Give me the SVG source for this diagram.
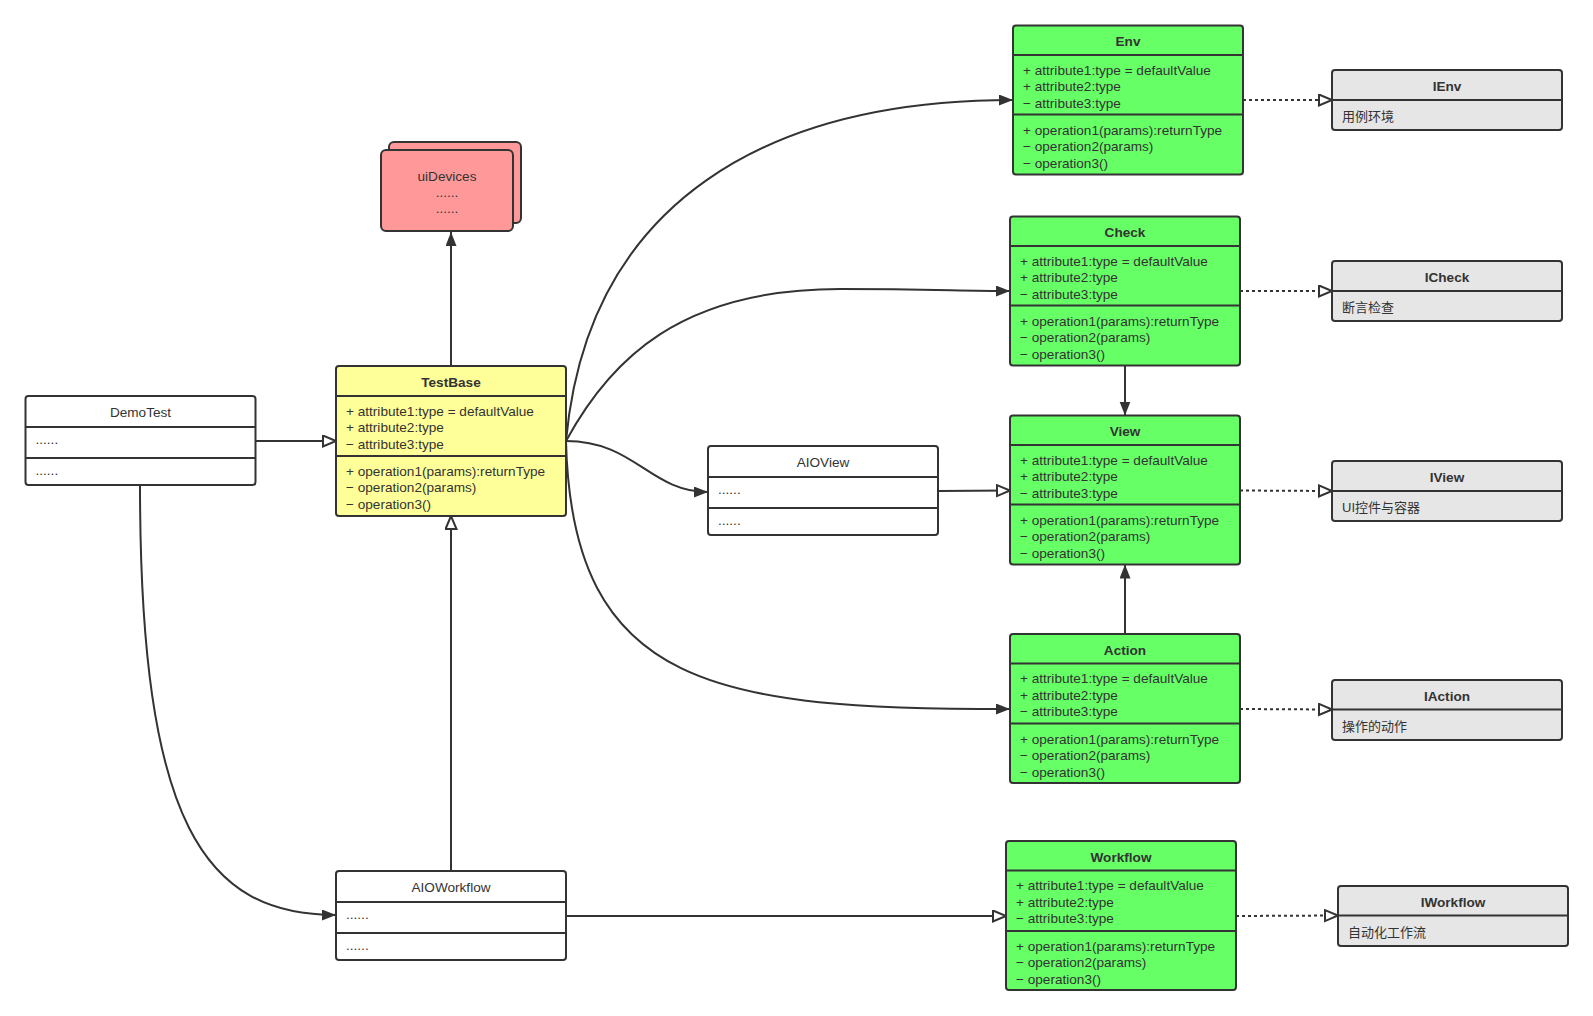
<svg xmlns="http://www.w3.org/2000/svg" width="1593" height="1016" viewBox="0 0 1593 1016">
<defs>
<style>
.box{stroke:#333;stroke-width:2}
.div{stroke:#333;stroke-width:2;fill:none}
.g{fill:#66FF66}
.y{fill:#FFFF99}
.r{fill:#FF9999}
.gr{fill:#E6E6E6}
.w{fill:#FFFFFF}
text{font-family:"Liberation Sans","Noto Sans CJK SC",sans-serif;font-size:13.6px;fill:#333}
.h{font-weight:bold;text-anchor:middle}
.hn{text-anchor:middle}
.cjk{font-size:13px}
.c{fill:none;stroke:#333;stroke-width:2}
.dot{fill:none;stroke:#333;stroke-width:2;stroke-dasharray:3,3}
</style>
<marker id="fa" markerUnits="userSpaceOnUse" markerWidth="16" markerHeight="12" refX="14" refY="5.5" orient="auto">
<path d="M0,0 L14,5.5 L0,11 Z" fill="#333"/>
</marker>
<marker id="ha" markerUnits="userSpaceOnUse" markerWidth="16" markerHeight="14" refX="14" refY="6.5" orient="auto">
<path d="M1,1 L14,6.5 L1,12 Z" fill="#fff" stroke="#333" stroke-width="2"/>
</marker>
</defs>
<rect width="1593" height="1016" fill="#fff"/>

<g id="connectors">
<path class="c" d="M255,441 L336,441" marker-end="url(#ha)"/>
<path class="c" d="M451,366 L451,232" marker-end="url(#fa)"/>
<path class="c" d="M451,871 L451,516" marker-end="url(#ha)"/>
<path class="c" d="M140,485 C140,825 205,915 336,915" marker-end="url(#fa)"/>
<path class="c" d="M566,441 C588,200 770,100 1013,100" marker-end="url(#fa)"/>
<path class="c" d="M566,441 C610,360 680,289 840,289 C930,289 960,291 1010,291" marker-end="url(#fa)"/>
<path class="c" d="M566,441 C635,441 650,492 708,492" marker-end="url(#fa)"/>
<path class="c" d="M566,441 C572,690 720,709 1010,709" marker-end="url(#fa)"/>
<path class="c" d="M938,491 L1010,490.5" marker-end="url(#ha)"/>
<path class="c" d="M1125,366 L1125,415.5" marker-end="url(#fa)"/>
<path class="c" d="M1125,634 L1125,564.5" marker-end="url(#fa)"/>
<path class="c" d="M566,916 L1006,916" marker-end="url(#ha)"/>
<path class="dot" d="M1243,100 L1332,100" marker-end="url(#ha)"/>
<path class="dot" d="M1240,291 L1332,291" marker-end="url(#ha)"/>
<path class="dot" d="M1240,490.5 L1332,491" marker-end="url(#ha)"/>
<path class="dot" d="M1240,709 L1332,709.5" marker-end="url(#ha)"/>
<path class="dot" d="M1236,916 L1338,915.5" marker-end="url(#ha)"/>
</g>

<g id="uiDevices">
<rect class="box r" x="389" y="142" width="132" height="81" rx="5"/>
<rect class="box r" x="381" y="150" width="132" height="81" rx="5"/>
<text class="hn" x="447" y="181">uiDevices</text>
<text class="hn" x="447" y="197">......</text>
<text class="hn" x="447" y="213">......</text>
</g>

<g id="TestBase" transform="translate(336,366)">
<rect class="box y" x="0" y="0" width="230" height="150" rx="3"/>
<path class="div" d="M0,30 H230 M0,90 H230"/>
<text class="h" x="115" y="20.5">TestBase</text>
<text x="10" y="49.5">+ attribute1:type = defaultValue</text>
<text x="10" y="66">+ attribute2:type</text>
<text x="10" y="82.5">− attribute3:type</text>
<text x="10" y="109.5">+ operation1(params):returnType</text>
<text x="10" y="126">− operation2(params)</text>
<text x="10" y="142.5">− operation3()</text>
</g>

<g id="DemoTest" transform="translate(25.5,396)">
<rect class="box w" x="0" y="0" width="230" height="89" rx="3"/>
<path class="div" d="M0,31 H230 M0,62 H230"/>
<text class="hn" x="115" y="21">DemoTest</text>
<text x="10" y="48">......</text>
<text x="10" y="79">......</text>
</g>

<g id="AIOView" transform="translate(708,446)">
<rect class="box w" x="0" y="0" width="230" height="89" rx="3"/>
<path class="div" d="M0,31 H230 M0,62 H230"/>
<text class="hn" x="115" y="21">AIOView</text>
<text x="10" y="48">......</text>
<text x="10" y="79">......</text>
</g>

<g id="AIOWorkflow" transform="translate(336,871)">
<rect class="box w" x="0" y="0" width="230" height="89" rx="3"/>
<path class="div" d="M0,31 H230 M0,62 H230"/>
<text class="hn" x="115" y="21">AIOWorkflow</text>
<text x="10" y="48">......</text>
<text x="10" y="79">......</text>
</g>

<g id="Env" transform="translate(1013,25.5)">
<rect class="box g" x="0" y="0" width="230" height="149" rx="3"/>
<path class="div" d="M0,29.5 H230 M0,89 H230"/>
<text class="h" x="115" y="20.5">Env</text>
<text x="10" y="49">+ attribute1:type = defaultValue</text>
<text x="10" y="65.5">+ attribute2:type</text>
<text x="10" y="82">− attribute3:type</text>
<text x="10" y="109">+ operation1(params):returnType</text>
<text x="10" y="125.5">− operation2(params)</text>
<text x="10" y="142">− operation3()</text>
</g>

<g id="Check" transform="translate(1010,216.5)">
<rect class="box g" x="0" y="0" width="230" height="149" rx="3"/>
<path class="div" d="M0,29.5 H230 M0,89 H230"/>
<text class="h" x="115" y="20.5">Check</text>
<text x="10" y="49">+ attribute1:type = defaultValue</text>
<text x="10" y="65.5">+ attribute2:type</text>
<text x="10" y="82">− attribute3:type</text>
<text x="10" y="109">+ operation1(params):returnType</text>
<text x="10" y="125.5">− operation2(params)</text>
<text x="10" y="142">− operation3()</text>
</g>

<g id="View" transform="translate(1010,415.5)">
<rect class="box g" x="0" y="0" width="230" height="149" rx="3"/>
<path class="div" d="M0,29.5 H230 M0,89 H230"/>
<text class="h" x="115" y="20.5">View</text>
<text x="10" y="49">+ attribute1:type = defaultValue</text>
<text x="10" y="65.5">+ attribute2:type</text>
<text x="10" y="82">− attribute3:type</text>
<text x="10" y="109">+ operation1(params):returnType</text>
<text x="10" y="125.5">− operation2(params)</text>
<text x="10" y="142">− operation3()</text>
</g>

<g id="Action" transform="translate(1010,634)">
<rect class="box g" x="0" y="0" width="230" height="149" rx="3"/>
<path class="div" d="M0,29.5 H230 M0,89.5 H230"/>
<text class="h" x="115" y="20.5">Action</text>
<text x="10" y="49">+ attribute1:type = defaultValue</text>
<text x="10" y="65.5">+ attribute2:type</text>
<text x="10" y="82">− attribute3:type</text>
<text x="10" y="109.5">+ operation1(params):returnType</text>
<text x="10" y="126">− operation2(params)</text>
<text x="10" y="142.5">− operation3()</text>
</g>

<g id="Workflow" transform="translate(1006,841)">
<rect class="box g" x="0" y="0" width="230" height="149" rx="3"/>
<path class="div" d="M0,29.5 H230 M0,90 H230"/>
<text class="h" x="115" y="20.5">Workflow</text>
<text x="10" y="49">+ attribute1:type = defaultValue</text>
<text x="10" y="65.5">+ attribute2:type</text>
<text x="10" y="82">− attribute3:type</text>
<text x="10" y="109.5">+ operation1(params):returnType</text>
<text x="10" y="126">− operation2(params)</text>
<text x="10" y="142.5">− operation3()</text>
</g>

<g id="IEnv" transform="translate(1332,70)">
<rect class="box gr" x="0" y="0" width="230" height="60" rx="3"/>
<path class="div" d="M0,30 H230"/>
<text class="h" x="115" y="20.5">IEnv</text>
<text class="cjk" x="10" y="50.5">用例环境</text>
</g>

<g id="ICheck" transform="translate(1332,261)">
<rect class="box gr" x="0" y="0" width="230" height="60" rx="3"/>
<path class="div" d="M0,30 H230"/>
<text class="h" x="115" y="20.5">ICheck</text>
<text class="cjk" x="10" y="50.5">断言检查</text>
</g>

<g id="IView" transform="translate(1332,461)">
<rect class="box gr" x="0" y="0" width="230" height="60" rx="3"/>
<path class="div" d="M0,30 H230"/>
<text class="h" x="115" y="20.5">IView</text>
<text class="cjk" x="10" y="50.5">UI控件与容器</text>
</g>

<g id="IAction" transform="translate(1332,680)">
<rect class="box gr" x="0" y="0" width="230" height="60" rx="3"/>
<path class="div" d="M0,29.5 H230"/>
<text class="h" x="115" y="20.5">IAction</text>
<text class="cjk" x="10" y="50.5">操作的动作</text>
</g>

<g id="IWorkflow" transform="translate(1338,886)">
<rect class="box gr" x="0" y="0" width="230" height="60" rx="3"/>
<path class="div" d="M0,29.5 H230"/>
<text class="h" x="115" y="20.5">IWorkflow</text>
<text class="cjk" x="10" y="50.5">自动化工作流</text>
</g>
</svg>
